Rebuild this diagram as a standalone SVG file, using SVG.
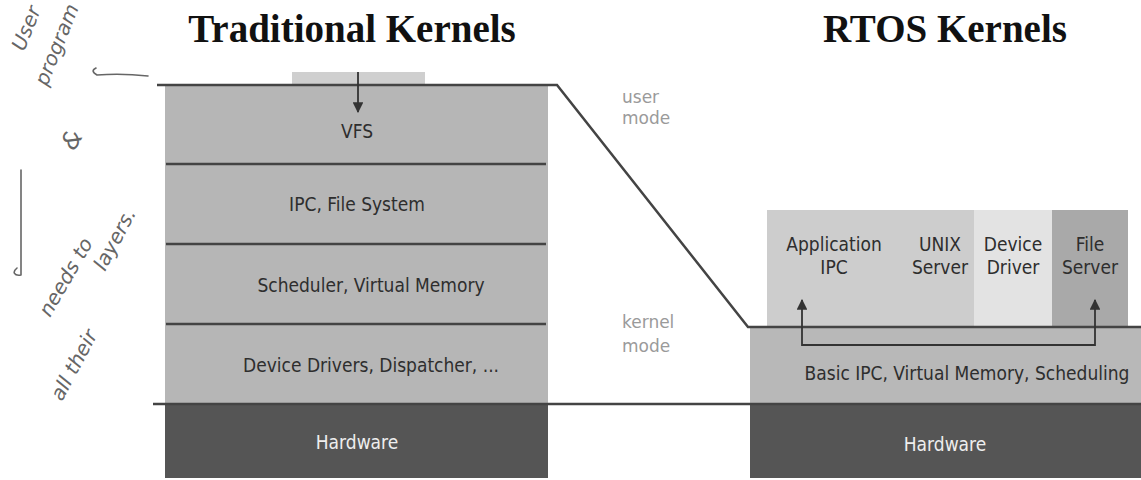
<svg xmlns="http://www.w3.org/2000/svg" width="1141" height="480" viewBox="0 0 1141 480">
<style>
.title{font-family:"Liberation Serif",serif;font-weight:bold;font-size:39px;fill:#111;text-anchor:middle}
.lbl{font-family:"DejaVu Sans Condensed","DejaVu Sans",sans-serif;font-size:19px;fill:#2e2e2e;text-anchor:middle}
.hw{font-family:"DejaVu Sans Condensed","DejaVu Sans",sans-serif;font-size:19px;fill:#eee;text-anchor:middle}
.mode{font-family:"DejaVu Sans","Liberation Sans",sans-serif;font-size:17px;fill:#9a9a9a}
.hand{font-family:"DejaVu Sans","Liberation Sans",sans-serif;font-style:italic;font-size:20px;fill:#666}
.sep{stroke:#444;stroke-width:2.5;fill:none}
.conn{stroke:#333;stroke-width:1.8;fill:none}
.ink{stroke:#666;stroke-width:1.6;fill:none;stroke-linecap:round}
</style>
<defs>
<marker id="ah" viewBox="0 0 10 10" refX="9" refY="5" markerWidth="6" markerHeight="6" orient="auto">
<path d="M0,0 L10,5 L0,10 z" fill="#333"/>
</marker>
</defs>
<rect width="1141" height="480" fill="#fff"/>
<text class="title" x="352" y="42">Traditional Kernels</text>
<text class="title" x="945" y="42">RTOS Kernels</text>

<g id="user-app-top"><rect x="292" y="72" width="133" height="14" fill="#cfcfcf"/></g>
<g id="vfs"><rect x="165" y="86" width="383" height="78" fill="#b6b6b6"/><text class="lbl" x="357" y="138">VFS</text></g>
<g id="ipc-fs"><rect x="165" y="164" width="383" height="80" fill="#b6b6b6"/><text class="lbl" x="357" y="211">IPC, File System</text></g>
<g id="sched-vm"><rect x="165" y="244" width="383" height="80" fill="#b6b6b6"/><text class="lbl" x="371" y="292">Scheduler, Virtual Memory</text></g>
<g id="dev-drv"><rect x="165" y="324" width="383" height="80" fill="#b6b6b6"/><text class="lbl" x="371" y="372">Device Drivers, Dispatcher, ...</text></g>
<g id="hw-left"><rect x="165" y="404" width="383" height="74" fill="#555"/><text class="hw" x="357" y="449">Hardware</text></g>

<g id="app-ipc"><rect x="767" y="210" width="135" height="117" fill="#cdcdcd"/><text class="lbl" x="834" y="251">Application</text><text class="lbl" x="834" y="274">IPC</text></g>
<g id="unix-server"><rect x="902" y="210" width="72" height="117" fill="#cdcdcd"/><text class="lbl" x="940" y="251">UNIX</text><text class="lbl" x="940" y="274">Server</text></g>
<g id="device-driver"><rect x="974" y="210" width="78" height="117" fill="#e3e3e3"/><text class="lbl" x="1013" y="251">Device</text><text class="lbl" x="1013" y="274">Driver</text></g>
<g id="file-server"><rect x="1052" y="210" width="76" height="117" fill="#a9a9a9"/><text class="lbl" x="1090" y="251">File</text><text class="lbl" x="1090" y="274">Server</text></g>
<g id="basic-ipc"><rect x="750" y="327" width="391" height="77" fill="#b8b8b8"/><text class="lbl" x="967" y="380">Basic IPC, Virtual Memory, Scheduling</text></g>
<g id="hw-right"><rect x="750" y="404" width="391" height="74" fill="#555"/><text class="hw" x="945" y="451">Hardware</text></g>

<g id="modes">
<text class="mode" x="622" y="103">user</text><text class="mode" x="622" y="124">mode</text>
<text class="mode" x="622" y="328">kernel</text><text class="mode" x="622" y="352">mode</text>
</g>

<g id="connectors">
<path class="sep" d="M157,85 H557 L748,327 H1141"/>
<path class="sep" d="M166,164 H546 M166,244 H546 M166,324 H546"/>
<path class="sep" d="M153,404 H1141"/>
<path class="conn" d="M358,72 V112" marker-end="url(#ah)"/>
<path class="conn" d="M802,345 H1095 V300" marker-end="url(#ah)"/>
<path class="conn" d="M1095,345 H802 V300" marker-end="url(#ah)"/>
</g>

<g id="handwriting">
<text class="hand" transform="translate(24,52) rotate(-68)">User</text>
<text class="hand" transform="translate(47,87) rotate(-68)">program</text>
<text class="hand" transform="translate(74,152) rotate(-60)" style="font-size:24px">&amp;</text>
<path class="ink" d="M148,76 C130,74 110,74 97,75 M97,75 C92,72 92,70 96,68"/>
<path class="ink" d="M21,170 V275 M21,275 C14,276 12,272 17,268"/>
<text class="hand" transform="translate(50,318) rotate(-60)">needs to</text>
<text class="hand" transform="translate(62,402) rotate(-62)">all their</text>
<text class="hand" transform="translate(105,272) rotate(-62)">layers.</text>
</g>
</svg>
